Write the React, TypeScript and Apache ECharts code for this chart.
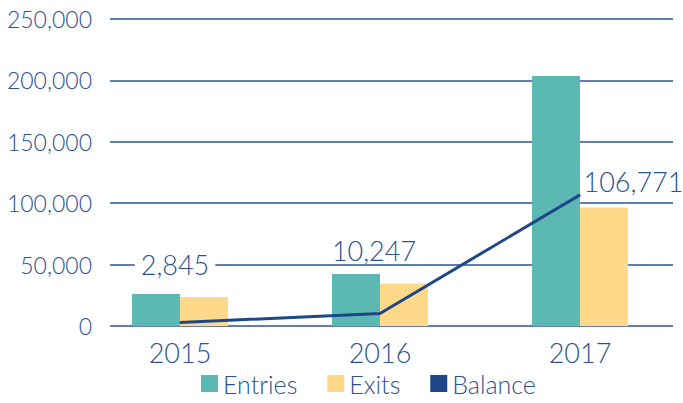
import React, { useEffect, useRef } from "react";
import * as echarts from "echarts";

const years = ["2015", "2016", "2017"];
const entries = [26000, 42300, 203500];
const exits = [23600, 34700, 96500];
const balance = [2845, 10247, 106771];
const yTicks = { min: 0, max: 250000, interval: 50000 };

const TEXT = "#2B5191";
const FONT = "Lato";

export default function App() {
  const ref = useRef<HTMLDivElement>(null);
  useEffect(() => {
    const chart = echarts.init(ref.current!, undefined, { renderer: "svg" });
    const labelOffsets: any[] = [
      { position: "top", distance: 5, offset: [-5, -39] },
      { position: "top", distance: 5, offset: [-6, -44] },
      { position: "right", distance: 1, padding: [0, 2], offset: [0, -13] },
    ];
    chart.setOption({
      animation: false,
      textStyle: { fontFamily: FONT, color: TEXT },
      legend: {
        bottom: 2,
        left: 196,
        itemWidth: 17,
        itemHeight: 17,
        itemGap: 30,
        icon: "rect",
        textStyle: { fontFamily: FONT, fontSize: 25, fontWeight: 300, color: TEXT },
        data: ["Entries", "Exits", "Balance"],
      },
      grid: [
        { left: 80, right: 3, top: 19, bottom: 77 },
        { left: 110, right: 10, top: 19, bottom: 77 },
      ],
      xAxis: [
        {
          type: "category",
          gridIndex: 0,
          data: years,
          axisLine: { show: false },
          axisTick: { show: false },
          axisLabel: { fontSize: 27, fontWeight: 300, color: TEXT, fontFamily: FONT, margin: 13 },
        },
        { type: "value", gridIndex: 1, show: false },
      ],
      yAxis: [
        { type: "value", gridIndex: 0, ...yTicks, show: false, splitLine: { show: false } },
        {
          type: "value",
          gridIndex: 1,
          ...yTicks,
          axisLine: { show: false },
          axisTick: { show: false },
          splitLine: { lineStyle: { color: "#2A5596", width: 1.5 } },
          axisLabel: {
            fontSize: 23,
            fontWeight: 300,
            color: TEXT,
            fontFamily: FONT,
            margin: 18,
            formatter: (v: number) => v.toLocaleString("en-US"),
          },
        },
      ],
      series: [
        {
          name: "Entries",
          type: "bar",
          xAxisIndex: 0,
          yAxisIndex: 0,
          data: entries,
          barWidth: 48,
          barGap: "0%",
          itemStyle: { color: "#5BB8B2" },
        },
        {
          name: "Exits",
          type: "bar",
          xAxisIndex: 0,
          yAxisIndex: 0,
          data: exits,
          barWidth: 48,
          barGap: "0%",
          itemStyle: { color: "#FFD98A" },
        },
        {
          name: "Balance",
          type: "line",
          xAxisIndex: 0,
          yAxisIndex: 0,
          data: balance.map((v, i) => ({ value: v, label: labelOffsets[i] })),
          symbol: "circle",
          symbolSize: 1,
          showSymbol: true,
          lineStyle: { color: "#1F4788", width: 3 },
          itemStyle: { color: "#1F4788" },
          z: 5,
          label: {
            show: true,
            fontSize: 27,
            fontWeight: 300,
            fontFamily: FONT,
            color: TEXT,
            backgroundColor: "#fff",
            padding: [0, 6],
            formatter: (p: any) => Number(p.value).toLocaleString("en-US"),
          },
        },
      ],
    });
    return () => chart.dispose();
  }, []);
  return <div ref={ref} style={{ width: 683, height: 403, position: "absolute", left: 0, top: 0 }} />;
}
